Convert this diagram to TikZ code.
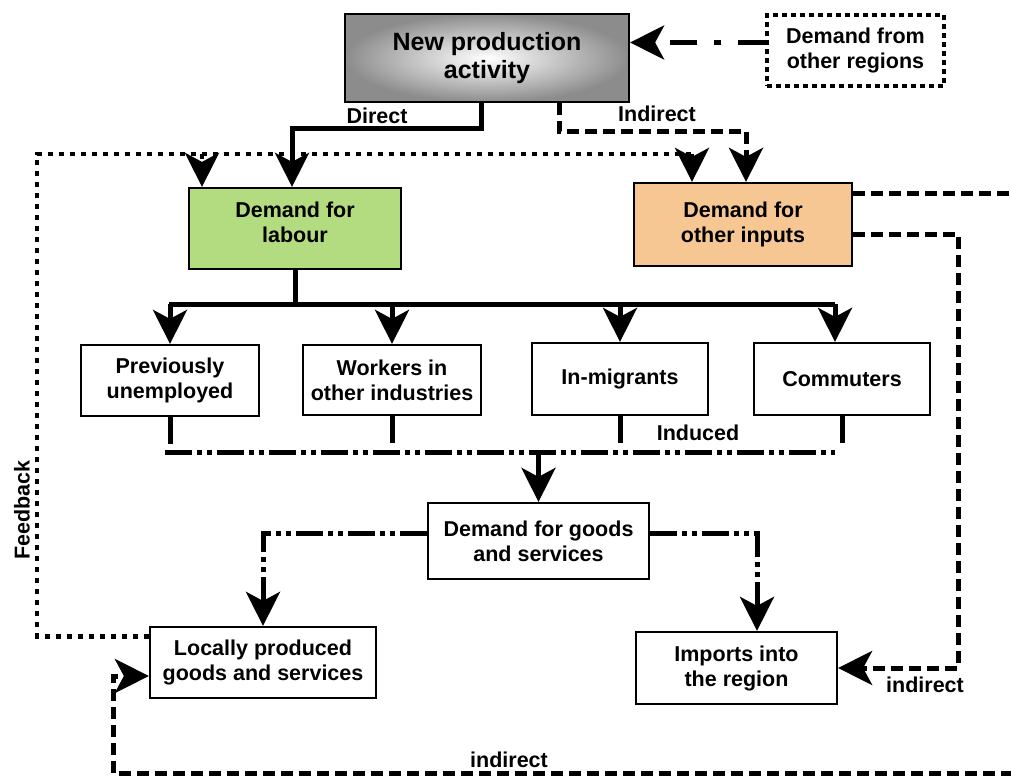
\documentclass[tikz,border=0pt]{standalone}
\usepackage{fontspec}
\setmainfont{Liberation Sans}
\usetikzlibrary{arrows.meta,positioning}

\definecolor{labourgreen}{RGB}{179,220,128}
\definecolor{inputorange}{RGB}{246,199,146}
\newcommand{\diagfont}{\fontsize{10.75}{12.5}\selectfont\bfseries}
\newcommand{\titlefont}{\fontsize{12.5}{14}\selectfont\bfseries}

\begin{document}
\begin{tikzpicture}[x=0.5pt, y=-0.5pt,
    box/.style={rectangle, draw, line width=1.1pt, align=center, font=\diagfont, inner sep=1pt},
    dotbox/.style={rectangle, draw, line width=1.6pt, dash pattern=on 2.5pt off 2pt, align=center, font=\diagfont, inner sep=1pt},
    lbl/.style={font=\diagfont, inner sep=1pt},
    arr/.style={-{Stealth[length=17pt, width=17pt, inset=4.5pt]}},
    solidline/.style={line width=2.5pt},
    dashline/.style={line width=2.5pt, dash pattern=on 6pt off 3pt},
    dotline/.style={line width=2.4pt, dash pattern=on 2.5pt off 3pt},
    dashdotline/.style={line width=2.5pt, dash pattern=on 13.5pt off 8.5pt on 3.5pt off 8.5pt},
    ddotline/.style={line width=2.5pt, dash pattern=on 13.5pt off 2.5pt on 2.5pt off 2.5pt on 2.5pt off 2.5pt}]

    \useasboundingbox (0,0) rectangle (1011,776);

    % Top row
    \node [box, minimum width=142pt, minimum height=44pt, font=\titlefont,
           shading=radial, inner color=white, outer color=black!45] (npa) at (487,58) {New production\\activity};
    \node [dotbox, minimum width=88.5pt, minimum height=35.5pt] (dfr) at (855.5,50.5) {Demand from\\other regions};

    % Second row
    \node [box, fill=labourgreen, minimum width=106pt, minimum height=40.5pt, text depth=6pt] (labour) at (295,228.5) {Demand for\\labour};
    \node [box, fill=inputorange, minimum width=109pt, minimum height=41.5pt] (inputs) at (743,224.5) {Demand for\\other inputs};

    % Sources of labour
    \node [box, fill=white, minimum width=89pt, minimum height=35.5pt] (unemp) at (170,380.5) {Previously\\unemployed};
    \node [box, fill=white, minimum width=89pt, minimum height=35pt] (workers) at (392,380) {Workers in\\other industries};
    \node [box, fill=white, minimum width=88pt, minimum height=36pt] (migrants) at (620,379) {In-migrants};
    \node [box, fill=white, minimum width=88pt, minimum height=36pt] (commuters) at (842,379) {Commuters};

    % Goods and services
    \node [box, fill=white, minimum width=110.5pt, minimum height=38pt] (goods) at (538.5,541) {Demand for goods\\and services};
    \node [box, fill=white, minimum width=113pt, minimum height=35.5pt] (local) at (263,662.5) {Locally produced\\goods and services};
    \node [box, fill=white, minimum width=100.5pt, minimum height=36pt] (imports) at (736.5,668) {Imports into\\the region};

    % Labels
    \node [lbl] (lbldirect) at (377,116) {Direct};
    \node [lbl] (lblindirect) at (657,114) {Indirect};
    \node [lbl] (lblinduced) at (698,433) {Induced};
    \node [lbl, rotate=90] (lblfeedback) at (22,510) {Feedback};
    \node [lbl] (lblimports) at (925,685) {indirect};
    \node [lbl] (lbllocal) at (509,760) {indirect};

    % Bend points
    \coordinate (dir) at (292,128);
    \coordinate (ind) at (746,131);
    \coordinate (fbL) at (37,154);
    \coordinate (fbM) at (202,154);
    \coordinate (fbR) at (692,154);
    \coordinate (busL) at (169,304);
    \coordinate (busR) at (835,304);
    \coordinate (indL) at (165,452);
    \coordinate (indR) at (835,452);
    \coordinate (gdsL) at (263,533);
    \coordinate (gdsR) at (757,533);
    \coordinate (lpR) at (1030,193);
    \coordinate (lpB) at (1030,773);
    \coordinate (lpL) at (113,773);
    \coordinate (ilp) at (958,234);

    % Direct and indirect effects
    \draw [dashdotline, arr] ([yshift=4pt]dfr.west) -- ([yshift=4pt]dfr.west -| npa.east);
    \draw [solidline, arr] ([xshift=-3pt]npa.south) |- (dir) -- (dir |- labour.north);
    \draw [dashline, arr] ([xshift=36pt]npa.south) |- (ind) -- (ind |- inputs.north);

    % Feedback loop
    \draw [dotline] ([yshift=13pt]local.west) -| (fbL) -- (fbR);
    \draw [dotline, arr] (fbM) -- (fbM |- labour.north);
    \draw [dotline, arr] (fbR) -- (fbR |- inputs.north);

    % Labour split
    \draw [solidline] (labour.south) -- (labour.south |- busL);
    \draw [solidline] (busL) -- (busR);
    \foreach \src in {unemp,workers,migrants}
        \draw [solidline, arr] (\src.north |- busL) -- (\src.north);
    \draw [solidline, arr] (busR) -- (busR |- commuters.north);

    % Induced effects
    \foreach \src in {unemp,workers,migrants,commuters}
        \draw [solidline] (\src.south) -- ++(0,27);
    \draw [ddotline] (indL) -- (indR);
    \draw [solidline, arr] (goods.north |- indL) -- (goods.north);
    \draw [ddotline, arr] (goods.west |- gdsL) -- (gdsL) -- (gdsL |- local.north);
    \draw [ddotline, arr] (goods.east |- gdsR) -- (gdsR) -- (gdsR |- imports.north);

    % Leakages through other inputs
    \draw [dashline, arr] ([yshift=15.75pt]inputs.east) -- (lpR) -- (lpB) -- (lpL) |- ([yshift=-6.75pt]local.west);
    \draw [dashline, arr] ([yshift=-4.75pt]inputs.east) -- (ilp) |- (imports.east);
\end{tikzpicture}
\end{document}
